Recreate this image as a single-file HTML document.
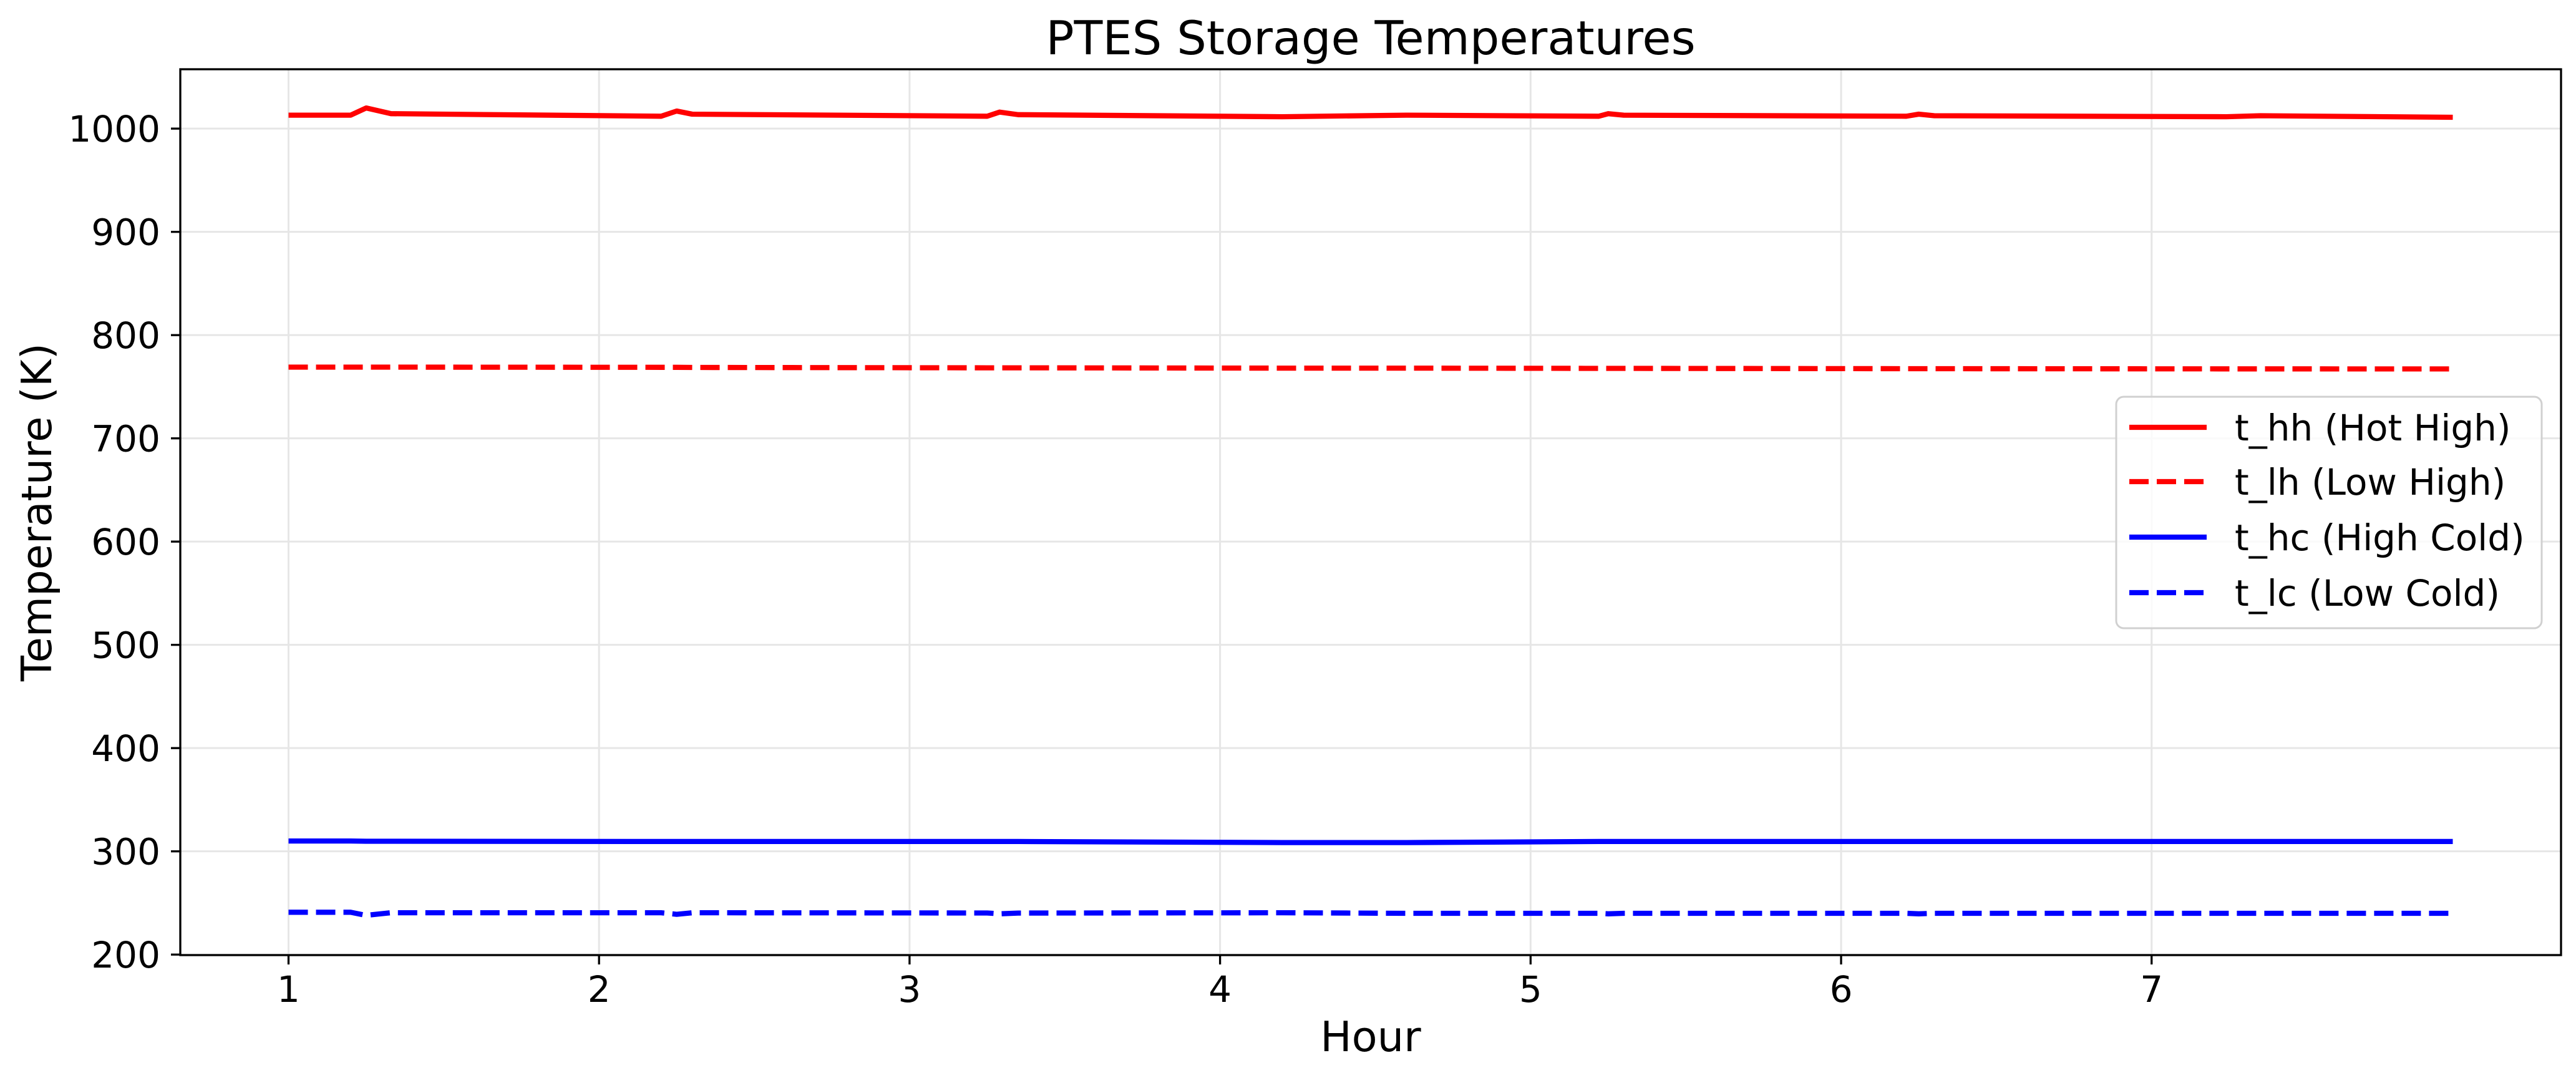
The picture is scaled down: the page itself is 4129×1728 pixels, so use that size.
<!DOCTYPE html>
<html><head><meta charset="utf-8"><style>
html,body{margin:0;padding:0;background:#fff}
svg{display:block}
text{font-family:"DejaVu Sans","Liberation Sans",sans-serif;fill:#000}
</style></head><body>
<svg id="chart" width="4129" height="1728" viewBox="0 0 4129 1728" xmlns="http://www.w3.org/2000/svg">
<rect width="4129" height="1728" fill="#fff"/>
<g id="grid"></g>
<g id="series"></g>
<rect x="289" y="111" width="3816" height="1420" fill="none" stroke="#000" stroke-width="3.3"/>
<g id="ticks"></g>
<text x="2197" y="87" font-size="75" text-anchor="middle">PTES Storage Temperatures</text>
<text x="2197" y="1685" font-size="67" text-anchor="middle">Hour</text>
<text x="0" y="0" font-size="67" text-anchor="middle" transform="translate(82,821) rotate(-90)">Temperature (K)</text>
<g id="legend">
<rect x="3392" y="636" width="682" height="371" rx="12" fill="#fff" fill-opacity="0.8" stroke="#d0d0d0" stroke-width="3"/>
</g>
</svg>
<script>
const hours=[1,1.2,1.25,1.33,2.2,2.25,2.3,3.25,3.29,3.35,4.2,4.6,5.22,5.25,5.3,6.21,6.25,6.3,7.24,7.35,7.97];
const tHH=[1013,1013,1020,1014.5,1012,1017,1014,1012,1016,1013.5,1011.5,1013,1012,1014.5,1013,1012,1014,1012.5,1011.5,1012.5,1011];
const tLH=[769,769,769,769,768.8,768.8,768.7,768.3,768.3,768.3,768,768,767.8,767.8,767.8,767.5,767.5,767.5,767.3,767.3,767.2];
const tHC=[310,310,309.8,309.8,309.5,309.5,309.5,309.5,309.5,309.5,308.5,308.5,309.5,309.5,309.5,309.5,309.5,309.5,309.5,309.5,309.5];
const tLC=[241,241,238,240.5,240.5,239,240.5,240.3,239.5,240.2,240.5,240,240,239.5,240,240,239.5,240,240,240,240];
const xTicks=[1,2,3,4,5,6,7];
const yTicks=[200,300,400,500,600,700,800,900,1000];
const seriesNames=["t_hh (Hot High)","t_lh (Low High)","t_hc (High Cold)","t_lc (Low Cold)"];

const NS="http://www.w3.org/2000/svg";
const L=289,R=4105,T=111,B=1531;
const xMin=0.6515,xMax=8.3185,yMin=199.5,yMax=1057.5;
function xs(v){return L+(v-xMin)/(xMax-xMin)*(R-L);}
function ys(v){return B-(v-yMin)/(yMax-yMin)*(B-T);}
function mk(tag,attrs,parent){const e=document.createElementNS(NS,tag);for(const k in attrs)e.setAttribute(k,attrs[k]);parent.appendChild(e);return e;}
const grid=document.getElementById('grid'),ticks=document.getElementById('ticks'),ser=document.getElementById('series'),leg=document.getElementById('legend');
xTicks.forEach(v=>{
 const x=xs(v);
 const g=mk('line',{x1:x,x2:x,y1:T,y2:B,stroke:'#e6e6e6','stroke-width':3},grid);
 
 
 const t=mk('line',{x1:x,x2:x,y1:B,y2:B+15,stroke:'#000','stroke-width':3.3},ticks);
 
 
 const l=mk('text',{x:x,y:1606,'font-size':58,'text-anchor':'middle'},ticks);
 l.textContent=v;
 
 
});
yTicks.forEach(v=>{
 const y=ys(v);
 const g=mk('line',{x1:L,x2:R,y1:y,y2:y,stroke:'#e6e6e6','stroke-width':3},grid);
 
 
 const t=mk('line',{x1:L-15,x2:L,y1:y,y2:y,stroke:'#000','stroke-width':3.3},ticks);
 
 
 const l=mk('text',{x:257,y:y+21,'font-size':58,'text-anchor':'end'},ticks);
 l.textContent=v;
 
 
});
const allSeries=[tHH,tLH,tHC,tLC];
const colors=['#ff0000','#ff0000','#0000ff','#0000ff'];
const dashed=[false,true,false,true];
const sNames=['series-t-hh','series-t-lh','series-t-hc','series-t-lc'];
allSeries.forEach((vals,i)=>{
 const d=vals.map((v,j)=>(j?'L':'M')+xs(hours[j]).toFixed(1)+' '+ys(v).toFixed(1)).join(' ');
 const p=mk('path',{d:d,fill:'none',stroke:colors[i],'stroke-width':8.3,'stroke-linejoin':'round'},ser);
 if(dashed[i])p.setAttribute('stroke-dasharray','31 13');
 
 
});
const legY=[685,772,861,950];
seriesNames.forEach((n,i)=>{
 const y=legY[i];
 const ln=mk('line',{x1:3413,x2:3537,y1:y,y2:y,stroke:colors[i],'stroke-width':8.3},leg);
 if(dashed[i])ln.setAttribute('stroke-dasharray','31 13');
 
 
 const t=mk('text',{x:3582,y:y+21,'font-size':58},leg);
 t.textContent=n;
 
 
});
</script>
</body></html>
